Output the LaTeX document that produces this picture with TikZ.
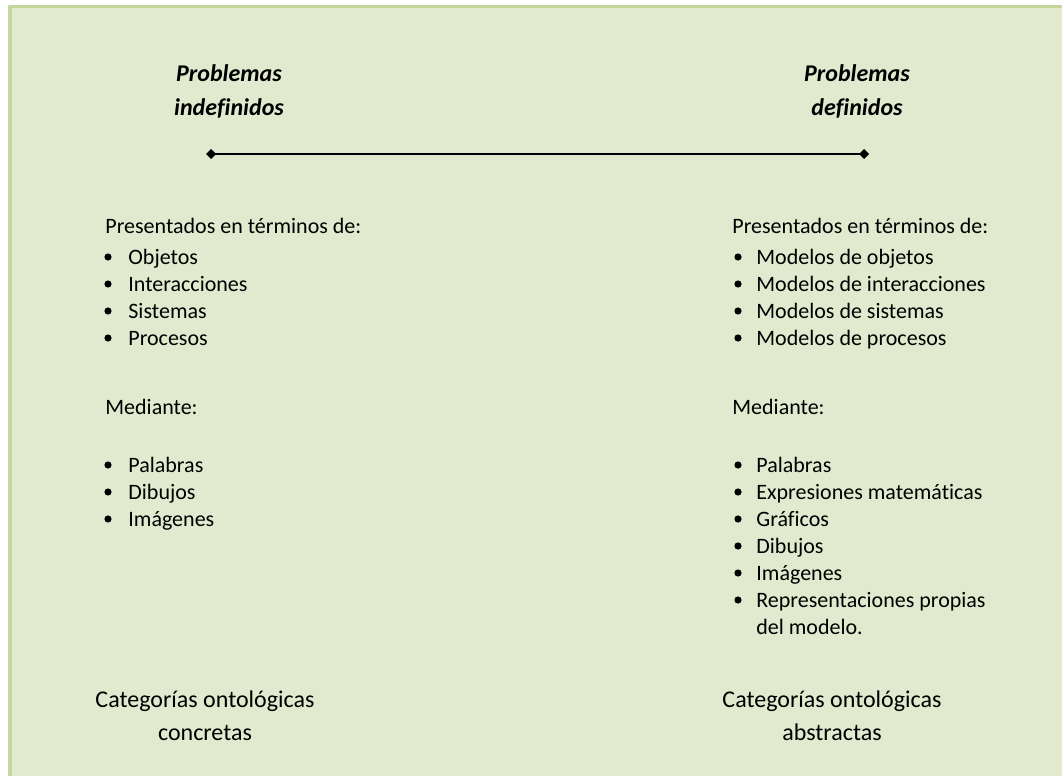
\documentclass[tikz,border=0pt]{standalone}
\usepackage{fontspec}
\setmainfont[Ligatures={NoCommon}]{Carlito}
\usetikzlibrary{arrows.meta}
\definecolor{fondo}{RGB}{225,234,206}
\definecolor{borde}{RGB}{195,214,155}

\begin{document}
\begin{tikzpicture}[x=0.5pt, y=-0.5pt, font=\fontsize{11}{13.4}\selectfont, line join=round, line cap=round,
		txt/.style={anchor=base west, inner sep=0pt},
		titulo/.style={anchor=base, inner sep=0pt, font=\fontsize{12}{14.5}\selectfont\bfseries\itshape},
		cat/.style={anchor=base, inner sep=0pt, font=\fontsize{12}{14.5}\selectfont}]
	\useasboundingbox (0,0) rectangle (1062,776);
	\clip (0,0) rectangle (1062,776);
	\filldraw[fill=fondo, draw=borde, line width=1.8pt] (10,6.5) rectangle (1080,800);
	
	% eje entre los dos tipos de problemas
	\path (206,154) coordinate (izq)
	(869,154) coordinate (der);
	\draw[line width=1.4pt, {Diamond[length=5pt,width=5pt]}-{Diamond[length=5pt,width=5pt]}] (izq) -- (der);
	
	\foreach \n/\x/\a/\b in {ind/229/Problemas/indefinidos, def/857/Problemas/definidos} {
		\node[titulo] (\n A) at (\x,81) {\a};
		\node[titulo] (\n B) at (\x,115) {\b};
	}
	
	\foreach \n/\x in {izq/105, der/732} {
		\node[txt] (pres\n) at (\x,233) {Presentados en términos de:};
		\node[txt] (med\n) at (\x,414) {Mediante:};
	}
	
	% columna izquierda
	\foreach \t/\y [count=\i] in {Objetos/264, Interacciones/291, Sistemas/318, Procesos/345,
		Palabras/472, Dibujos/499, Imágenes/526} {
		\fill (108,\y-7) circle (1.8pt);
		\node[txt] (li\i) at (128,\y) {\t};
	}
	
	% columna derecha
	\foreach \t/\y [count=\i] in {Modelos de objetos/264, Modelos de interacciones/291, Modelos de sistemas/318,
		Modelos de procesos/345, Palabras/472, Expresiones matemáticas/499, Gráficos/526, Dibujos/553,
		Imágenes/580, Representaciones propias/607} {
		\fill (738,\y-7) circle (1.8pt);
		\node[txt] (ld\i) at (756,\y) {\t};
	}
	\node[txt] (ldfin) at (756,634) {del modelo.};
	
	\node[cat] (catizq) at (205,707) {Categorías ontológicas};
	\node[cat] (concr) at (205,740) {concretas};
	\node[cat] (catder) at (832,707) {Categorías ontológicas};
	\node[cat] (abstr) at (832,740) {abstractas};
\end{tikzpicture}
\end{document}
